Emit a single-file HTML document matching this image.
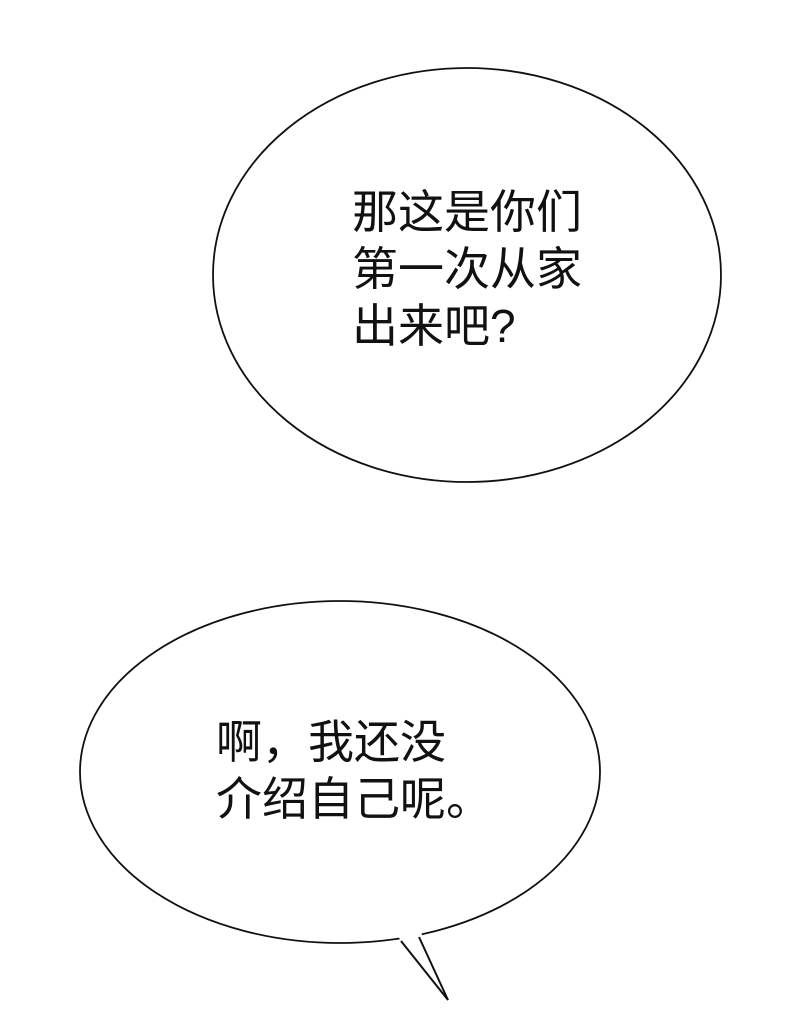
<!DOCTYPE html>
<html><head><meta charset="utf-8"><style>
body{margin:0;width:800px;height:1015px;background:#fff;position:relative;overflow:hidden}
svg{position:absolute;left:0;top:0}
.t{position:absolute;font-family:"Liberation Sans","Noto Sans CJK SC",sans-serif;color:#111;white-space:nowrap;font-weight:normal}
</style></head><body>
<svg width="800" height="1015">
<ellipse cx="467" cy="275" rx="254" ry="207" fill="#fff" stroke="#111" stroke-width="1.8"/>
<ellipse cx="340" cy="772" rx="260" ry="171" fill="#fff" stroke="#111" stroke-width="1.8"/>
<polygon points="401,938 448,1000 420,934" fill="#fff" stroke="#fff" stroke-width="3"/>
<polyline points="401,941 448,1000 419,937" fill="none" stroke="#111" stroke-width="2"/>
</svg>
<div class="t" style="left:352px;top:184px;font-size:46px;line-height:57px">那这是你们<br>第一次从家<br>出来吧?</div>
<div class="t" style="left:216px;top:714px;font-size:46px;line-height:57px">啊，我还没<br>介绍自己呢。</div>
</body></html>
